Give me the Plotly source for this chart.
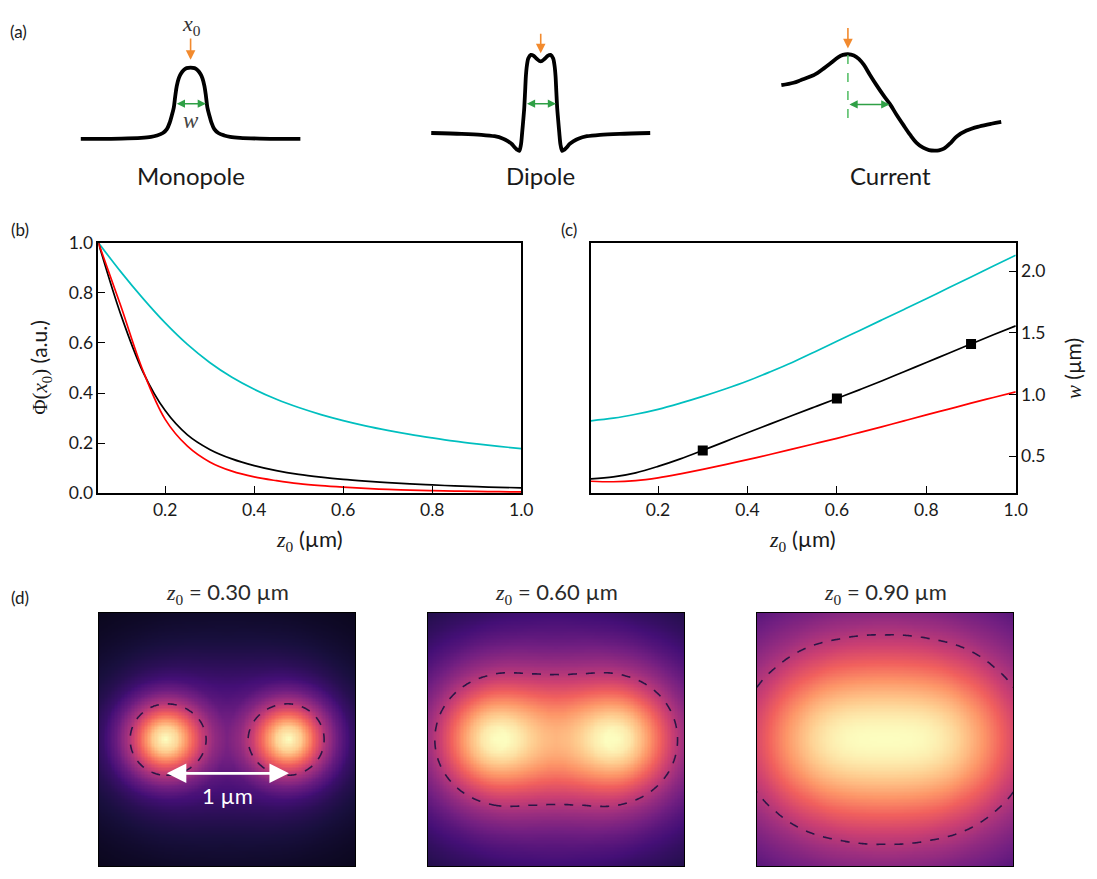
import numpy as np
import plotly.graph_objects as go

# ---------------- data ----------------
# panel (b): peak value vs depth
Z0 = [0.05, 0.1, 0.15, 0.2, 0.25, 0.3, 0.35, 0.4, 0.45, 0.5, 0.55, 0.6, 0.65, 0.7, 0.75, 0.8, 0.85, 0.9, 0.95, 1.0]
PHI_BLACK = [1.0, 0.715, 0.485, 0.33, 0.233, 0.175, 0.137, 0.11, 0.09, 0.075, 0.064, 0.055, 0.048, 0.042, 0.037, 0.033, 0.029, 0.026, 0.0235, 0.0215]
PHI_RED = [1.0, 0.75, 0.49, 0.295, 0.188, 0.125, 0.088, 0.065, 0.05, 0.038, 0.03, 0.024, 0.019, 0.015, 0.012, 0.010, 0.0085, 0.007, 0.006, 0.005]
PHI_CYAN = [1.0, 0.885, 0.778, 0.68, 0.594, 0.522, 0.463, 0.415, 0.375, 0.342, 0.314, 0.290, 0.269, 0.251, 0.235, 0.221, 0.208, 0.197, 0.187, 0.178]

# panel (c): width vs depth
W_BLACK = [0.316, 0.332, 0.365, 0.417, 0.478, 0.547, 0.618, 0.69, 0.76, 0.83, 0.899, 0.968, 1.038, 1.11, 1.185, 1.26, 1.335, 1.41, 1.484, 1.557]
W_RED = [0.297, 0.293, 0.302, 0.325, 0.357, 0.393, 0.432, 0.472, 0.514, 0.557, 0.601, 0.645, 0.691, 0.738, 0.786, 0.835, 0.882, 0.93, 0.976, 1.022]
W_CYAN = [0.787, 0.808, 0.84, 0.88, 0.93, 0.985, 1.045, 1.11, 1.183, 1.26, 1.345, 1.432, 1.518, 1.604, 1.69, 1.777, 1.865, 1.953, 2.042, 2.13]
MARK_Z = [0.3, 0.6, 0.9]
MARK_W = [0.547, 0.968, 1.41]

# panel (d): radial profile of one source (relative), two sources 1 um apart
HEAT_Z0 = ["0.30", "0.60", "0.90"]
SOURCE_X = [-0.5, 0.5]
PROFILE_R = [0, 0.1, 0.2, 0.3, 0.4, 0.5, 0.6, 0.7, 0.8, 0.9, 1.0, 1.2, 1.5, 2.0, 2.6]
PROFILE_030 = [1.0, 0.89, 0.67, 0.46, 0.295, 0.185, 0.135, 0.105, 0.083, 0.066, 0.053, 0.036, 0.021, 0.01, 0.005]
PROFILE_060 = [1.0, 0.965, 0.87, 0.74, 0.61, 0.49, 0.39, 0.31, 0.245, 0.195, 0.16, 0.112, 0.065, 0.032, 0.016]
PROFILE_090 = [1.0, 0.985, 0.943, 0.879, 0.80, 0.716, 0.631, 0.55, 0.476, 0.41, 0.354, 0.262, 0.171, 0.09, 0.046]
HALF_LEVEL = 0.5
VIEW_HALF = 1.037

# panel (a): schematic profiles (x, height)
MONO_X = [-111, -70, -50, -40, -34, -28, -24, -21, -19, -17, -15.5, -14, -12, -10, -7, -4, 0,
          4, 7, 10, 12, 14, 15.5, 17, 19, 21, 24, 28, 34, 40, 50, 70, 111]
MONO_Y = [0, 0.3, 1, 2, 3.5, 6, 10, 17, 24, 32, 44, 54, 62, 66.5, 70.5, 72.5, 73,
          72.5, 70.5, 66.5, 62, 54, 44, 32, 24, 17, 10, 6, 3.5, 2, 1, 0.3, 0]
DIP_X = [-110.7, -80, -60, -46.7, -38, -33.3, -29, -26.7, -24, -21.7, -20, -18.8, -17.5, -16.7, -15.8, -15,
         -14, -12.5, -10, -7, -4, 0, 4, 7, 10, 12.5, 14, 15, 15.8, 16.7, 17.5, 18.8, 20, 21.7, 24, 26.7,
         29, 33.3, 38, 46.7, 60, 80, 110.7]
DIP_Y = [0, -0.8, -1.8, -3.3, -5.8, -8.3, -11.5, -14.3, -17, -18.3, -12, 0, 15, 25, 42, 58.3,
         69, 76.5, 80, 79, 76, 73.3, 76, 79, 80, 76.5, 69, 58.3, 42, 25, 15, 0, -12, -18.3, -17, -14.3,
         -11.5, -8.3, -5.8, -3.3, -1.8, -0.8, 0]
CUR_X = [-67.3, -55, -47.3, -38, -30.6, -24, -17.3, -10, -5, 0, 6, 11, 16, 22, 29.4, 36, 42.7, 49, 56,
         63, 69.4, 76, 82, 87.7, 92, 97, 104, 110, 120, 132.7, 145, 155]
CUR_Y = [19, 21.5, 24.3, 27.8, 31.7, 36.5, 41.7, 47.5, 50, 50.7, 49.5, 46, 40, 30, 18.3, 8.5, -0.7, -11,
         -21.7, -32, -40, -45, -47.5, -48, -47.7, -46, -40, -33.5, -27.5, -23.3, -20.5, -18.7]
SCHEM_NAMES = ["Monopole", "Dipole", "Current"]

# ---------------- layout helpers ----------------
W, H = 1097, 879
def fx(px):
    return px / W
def fy(py):
    return 1 - py / H

SANS = "Lato"
SERIF = "Liberation Serif"
INK = "#1a1a1a"

fig = go.Figure()
annotations = []

def text(px, py, s, size=16, color=INK, family=SANS, angle=0, xanchor="center"):
    annotations.append(dict(x=fx(px), y=fy(py), xref="paper", yref="paper", text=s, showarrow=False,
                            font=dict(size=size, color=color, family=family), textangle=angle,
                            xanchor=xanchor, yanchor="middle"))

def zsub(sym="z"):
    return f'<span style="font-family:{SERIF}"><i>{sym}</i><sub>0</sub></span>'

# ---------------- panel (b) ----------------
for ys, col in [(PHI_CYAN, "#00bfbf"), (PHI_BLACK, "black"), (PHI_RED, "#ff0000")]:
    fig.add_trace(go.Scatter(x=Z0, y=ys, mode="lines", line=dict(color=col, width=1.7, shape="spline", smoothing=1.0),
                             xaxis="x", yaxis="y", hoverinfo="skip"))

# ---------------- panel (c) ----------------
for ys, col in [(W_CYAN, "#00bfbf"), (W_BLACK, "black"), (W_RED, "#ff0000")]:
    fig.add_trace(go.Scatter(x=Z0, y=ys, mode="lines", line=dict(color=col, width=1.7, shape="spline", smoothing=1.0),
                             xaxis="x2", yaxis="y2", hoverinfo="skip"))
fig.add_trace(go.Scatter(x=MARK_Z, y=MARK_W, mode="markers", marker=dict(symbol="square", size=10, color="black"),
                         xaxis="x2", yaxis="y2", hoverinfo="skip"))

# ---------------- panel (d) ----------------
xs = np.linspace(-VIEW_HALF, VIEW_HALF, 181)
X, Y = np.meshgrid(xs, xs)
profiles = [PROFILE_030, PROFILE_060, PROFILE_090]
for i, prof in enumerate(profiles):
    F = np.zeros_like(X)
    for sx in SOURCE_X:
        F += np.interp(np.hypot(X - sx, Y), PROFILE_R, prof)
    F = F / F.max()
    ax = f"x{3 + i}"
    ay = f"y{3 + i}"
    fig.add_trace(go.Heatmap(x=xs, y=xs, z=F, colorscale="Magma", zmin=0, zmax=1, showscale=False,
                             xaxis=ax, yaxis=ay, hoverinfo="skip"))
    fig.add_trace(go.Contour(x=xs, y=xs, z=F, showscale=False, xaxis=ax, yaxis=ay, hoverinfo="skip",
                             contours=dict(start=HALF_LEVEL, end=HALF_LEVEL, size=1, coloring="none"),
                             line=dict(color="#2a1646", width=1.6, dash="dash", smoothing=1)))

# ---------------- panel (a) schematics ----------------
schem = [
    ("x6", "y6", MONO_X, MONO_Y, 0.9),
    ("x7", "y7", DIP_X, DIP_Y, 0.8),
    ("x8", "y8", CUR_X, CUR_Y, 1.0),
]
for ax, ay, sx, sy, sm in schem:
    fig.add_trace(go.Scatter(x=sx, y=sy, mode="lines", line=dict(color="black", width=3.8, shape="spline", smoothing=sm),
                             xaxis=ax, yaxis=ay, hoverinfo="skip"))
fig.add_trace(go.Scatter(x=[0, 0], y=[50, -17], mode="lines", line=dict(color="#4dbb60", width=1.5, dash="dash"),
                         xaxis="x8", yaxis="y8", hoverinfo="skip"))

ORANGE = "#f28a2e"
GREEN = "#2fa046"
def arrow(ax, ay, x0, y0, x1, y1, color, width=1.6, both=False, size=1.0):
    d = dict(x=x1, y=y1, ax=x0, ay=y0, xref=ax, yref=ay, axref=ax, ayref=ay, text="", showarrow=True,
             arrowhead=2, arrowsize=size, arrowwidth=width, arrowcolor=color, standoff=0)
    if both:
        d.update(arrowside="end+start", startarrowhead=2, startarrowsize=size, startstandoff=0)
    annotations.append(d)

arrow("x6", "y6", 0, 104.3, 0, 81, ORANGE, size=1.2)
arrow("x7", "y7", 0, 103.3, 0, 81.7, ORANGE, size=1.2)
arrow("x8", "y8", 0, 79, 0, 56.7, ORANGE, size=1.2)
arrow("x6", "y6", -15.5, 36, 15.5, 36, GREEN, width=1.5, both=True, size=1.1)
arrow("x7", "y7", -15.5, 30, 15.5, 30, GREEN, width=1.5, both=True, size=1.1)
arrow("x8", "y8", 0, -0.7, 42, -0.7, GREEN, width=1.5, both=True, size=1.1)

# white scale arrow in first map
arrow("x3", "y3", -0.5, -0.277, 0.5, -0.277, "white", width=2.6, both=True, size=1.5)

# ---------------- texts ----------------
text(19, 20.7, "(a)", 17)
text(20.5, 224, "(b)", 17)
text(575.5, 224, "(c)", 17)
text(20.7, 600.7, "(d)", 17)

text(194, 14, '<i>x</i><sub>0</sub>', 22, "#333", SERIF)
text(193, 111.7, '<i>w</i>', 23, "#444", SERIF)
for name, cx in zip(SCHEM_NAMES, [192.7, 546.7, 900]):
    text(cx, 168.3, name, 24)

text(313, 541.7, zsub() + " (µm)", 22)
text(811, 541.7, zsub() + " (µm)", 22)
text(41, 365, f'<span style="font-family:{SERIF}">Φ(<i>x</i><sub>0</sub>)</span> (a.u.)', 21, angle=-90)
text(1085, 366.7, f'<span style="font-family:{SERIF}"><i>w</i></span> (µm)', 21, angle=-90)

heat_dom = [(100, 359.3), (432.7, 692), (765.3, 1024.6)]
for (a, b), z0 in zip(heat_dom, HEAT_Z0):
    text((a + b) / 2, 596.7, zsub() + f" = {z0} µm", 22, "#2a2a2a")
text(230, 803.3, "1 µm", 22, "white")

# ---------------- axes ----------------
tickfont = dict(family=SANS, size=17.5, color=INK)
frame = dict(showline=True, linecolor="black", linewidth=1.6, mirror=True, showgrid=False, zeroline=False,
             ticks="inside", ticklen=7, tickwidth=1.4, tickcolor="black", tickfont=tickfont)

layout_axes = {}
layout_axes["xaxis"] = dict(frame, domain=[fx(99.5), fx(527)], range=[0.05, 1.0], anchor="y",
                            tickvals=[0.2, 0.4, 0.6, 0.8, 1.0], ticktext=["0.2", "0.4", "0.6", "0.8", "1.0"])
layout_axes["yaxis"] = dict(frame, domain=[fy(494), fy(237.5)], range=[0, 1.0], anchor="x",
                            tickvals=[0, 0.2, 0.4, 0.6, 0.8, 1.0], ticktext=["0.0", "0.2", "0.4", "0.6", "0.8", "1.0"])
layout_axes["xaxis2"] = dict(frame, domain=[fx(597.5), fx(1027)], range=[0.05, 1.0], anchor="y2",
                             tickvals=[0.2, 0.4, 0.6, 0.8, 1.0], ticktext=["0.2", "0.4", "0.6", "0.8", "1.0"])
layout_axes["yaxis2"] = dict(frame, domain=[fy(494), fy(237.5)], range=[0.2, 2.23], anchor="x2", side="right",
                             tickvals=[0.5, 1.0, 1.5, 2.0], ticktext=["0.5", "1.0", "1.5", "2.0"])

for i, (a, b) in enumerate(heat_dom):
    n = 3 + i
    layout_axes[f"xaxis{n}"] = dict(domain=[fx(a), fx(b)], range=[-VIEW_HALF, VIEW_HALF], anchor=f"y{n}",
                                    showline=True, mirror=True, linecolor="black", linewidth=1.2,
                                    showticklabels=False, ticks="", showgrid=False, zeroline=False)
    layout_axes[f"yaxis{n}"] = dict(domain=[fy(876), fy(616.8)], range=[-VIEW_HALF, VIEW_HALF], anchor=f"x{n}",
                                    showline=True, mirror=True, linecolor="black", linewidth=1.2,
                                    showticklabels=False, ticks="", showgrid=False, zeroline=False)

schem_geom = [  # (center px, baseline px, left extent, right extent)
    (192.7, 131, 120, 120),
    (546.7, 125, 120, 120),
    (857.3, 95, 80, 170),
]
for i, (cx, by, l, r) in enumerate(schem_geom):
    n = 6 + i
    layout_axes[f"xaxis{n}"] = dict(domain=[fx(cx - l), fx(cx + r)], range=[-l, r], anchor=f"y{n}", visible=False)
    layout_axes[f"yaxis{n}"] = dict(domain=[fy(190), fy(0)], range=[by - 190, by], anchor=f"x{n}", visible=False)

fig.update_layout(width=W, height=H, margin=dict(l=0, r=0, t=0, b=0), paper_bgcolor="white",
                  plot_bgcolor="white", showlegend=False, annotations=annotations,
                  font=dict(family=SANS, color=INK), **layout_axes)

fig.write_html("out.html", config={"displayModeBar": False})
